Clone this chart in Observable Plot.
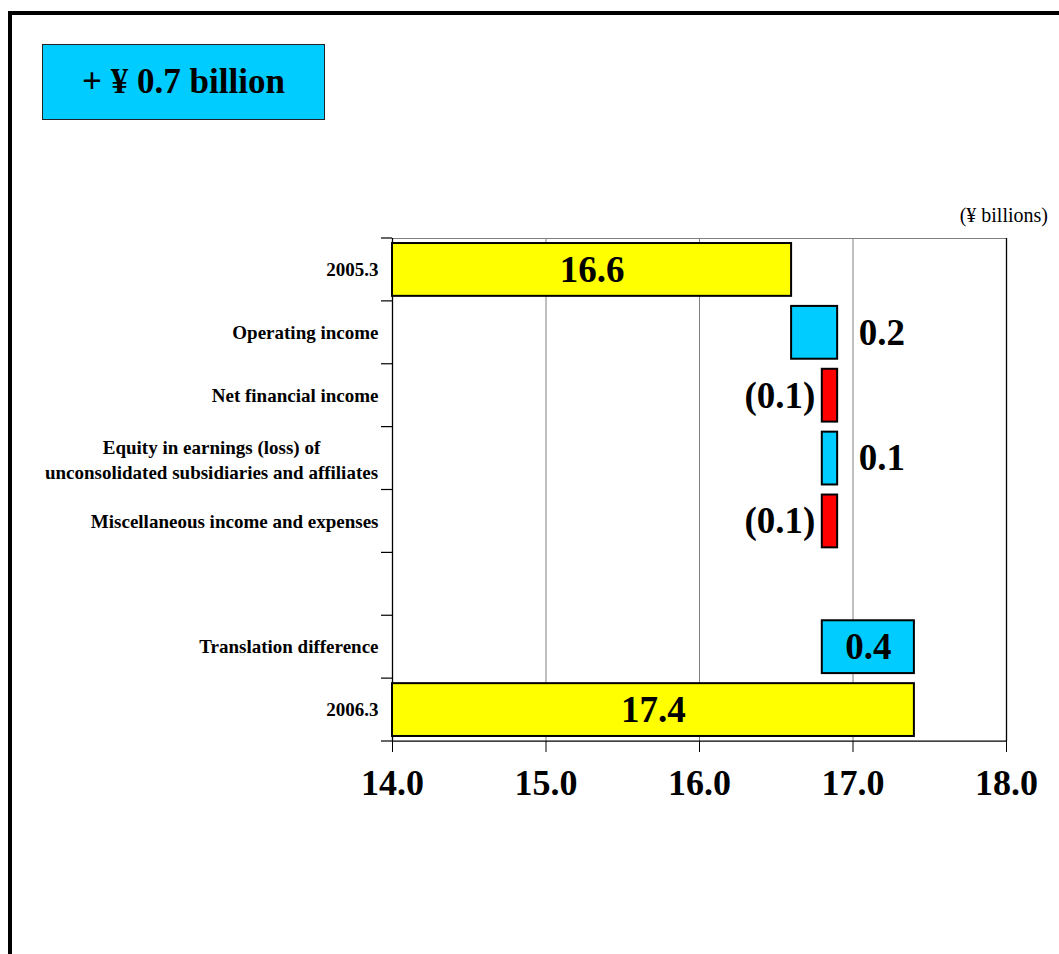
<!DOCTYPE html>
<html><head><meta charset="utf-8">
<script src="https://cdn.jsdelivr.net/npm/d3@7"></script>
<script src="https://cdn.jsdelivr.net/npm/@observablehq/plot@0.6"></script>
<style>
html,body{margin:0;padding:0;background:#fff;overflow:hidden;width:1059px;height:954px;}
#chart{position:absolute;left:0;top:0;}
#frame{position:absolute;left:8px;top:11px;width:1200px;height:1200px;border-left:4px solid #000;border-top:4px solid #000;}
#badge{position:absolute;left:42px;top:44px;width:283px;height:76px;box-sizing:border-box;background:#00CCFF;border:1px solid #222;display:flex;align-items:center;justify-content:center;font:bold 35px "Liberation Serif",serif;color:#000;}
#unit{position:absolute;right:11px;top:204px;font:20px "Liberation Serif",serif;color:#000;}
</style></head>
<body>
<div id="chart"></div>
<div id="frame"></div>
<div id="badge">+ ¥ 0.7 billion</div>
<div id="unit">(¥ billions)</div>
<script>
// ---- data ----
const categories = [
  "2005.3",
  "Operating income",
  "Net financial income",
  "Equity in earnings (loss) of\nunconsolidated subsidiaries and affiliates",
  "Miscellaneous income and expenses",
  " ",
  "Translation difference",
  "2006.3"
];
const barStart = [14.0, 16.6, 16.9, 16.8, 16.9, null, 16.8, 14.0];
const barEnd   = [16.6, 16.9, 16.8, 16.9, 16.8, null, 17.4, 17.4];
const barKind  = ["total", "increase", "decrease", "increase", "decrease", null, "increase", "total"];
const valueLabels = ["16.6", "0.2", "(0.1)", "0.1", "(0.1)", null, "0.4", "17.4"];
const xDomain = [14, 18];
const xTicks = [14, 15, 16, 17, 18];
const gridValues = [15, 16, 17];

// ---- helpers ----
const kindColor = {total: "#FFFF00", increase: "#00CCFF", decrease: "#FF0000"};
const idx = d3.range(categories.length).filter(i => barStart[i] != null);
const lo = i => Math.min(barStart[i], barEnd[i]);
const hi = i => Math.max(barStart[i], barEnd[i]);
const placement = i => barKind[i] === "decrease" ? "left"
  : (barKind[i] === "total" || hi(i) - lo(i) >= 0.35) ? "inside" : "right";
const equityCat = categories[3];
const font = "'Liberation Serif', 'Times New Roman', serif";
const valueFont = {fontSize: 37, fontWeight: "bold", fill: "#000"};

const marks = [
  Plot.frame({stroke: "#808080"}),
  Plot.ruleX(gridValues, {stroke: "#808080", strokeWidth: 1}),
  Plot.ruleX([xDomain[0], xDomain[1]], {stroke: "#000", strokeWidth: 1.3}),
  ...Object.keys(kindColor).map(k =>
    Plot.barX(idx.filter(i => barKind[i] === k), {
      x1: lo, x2: hi, y: i => categories[i],
      fill: kindColor[k], stroke: "#000", strokeWidth: 2
    })),
  Plot.text(idx.filter(i => placement(i) === "inside"), {
    x: i => (lo(i) + hi(i)) / 2, y: i => categories[i], text: i => valueLabels[i],
    textAnchor: "middle", ...valueFont
  }),
  Plot.text(idx.filter(i => placement(i) === "right"), {
    x: hi, y: i => categories[i], text: i => valueLabels[i],
    textAnchor: "start", dx: 21, ...valueFont
  }),
  Plot.text(idx.filter(i => placement(i) === "left"), {
    x: lo, y: i => categories[i], text: i => valueLabels[i],
    textAnchor: "end", dx: -7, ...valueFont
  }),
  Plot.axisY({
    tickSize: 0, tickPadding: 14, fontSize: 19, fontWeight: "bold", label: null,
    tickFormat: d => d === equityCat ? "" : d
  }),
  Plot.text([equityCat], {
    frameAnchor: "left", y: d => d, text: d => d, textAnchor: "middle",
    dx: -181, lineHeight: 1.3, fontSize: 19, fontWeight: "bold", fill: "#000"
  }),
  Plot.axisX({
    ticks: xTicks, tickFormat: d => d.toFixed(1), tickSize: 11, tickPadding: 17,
    fontSize: 36, fontWeight: "bold", label: null, stroke: "#000"
  })
];

const plot = Plot.plot({
  width: 1059,
  height: 954,
  marginLeft: 392,
  marginRight: 53,
  marginTop: 238,
  marginBottom: 213,
  x: {domain: xDomain, nice: false},
  y: {domain: categories, paddingInner: 0.16, paddingOuter: 0.08, round: false, label: null},
  style: {fontFamily: font, color: "#000", background: "transparent"},
  marks
});
document.getElementById("chart").appendChild(plot);

// category boundary ticks and bottom axis line, positioned through Plot's scales
const ys = plot.scale("y");
const xs = plot.scale("x");
const bw = ys.bandwidth;
const step = ys.step ?? bw / (1 - 0.16);
const half = (step - bw) / 2;
const bounds = categories.map(c => ys.apply(c) - half);
bounds.push(ys.apply(categories[categories.length - 1]) + bw + half);
const x0 = xs.apply(xDomain[0]);
const x1 = xs.apply(xDomain[1]);
const g = d3.select(plot).append("g").attr("stroke", "#000").attr("stroke-width", 1.2);
g.selectAll("line.t").data(bounds).join("line")
  .attr("x1", x0 - 11).attr("x2", x0).attr("y1", d => d).attr("y2", d => d);
g.append("line").attr("x1", x0).attr("x2", x1)
  .attr("y1", bounds[bounds.length - 1]).attr("y2", bounds[bounds.length - 1]);
</script>
</body></html>
